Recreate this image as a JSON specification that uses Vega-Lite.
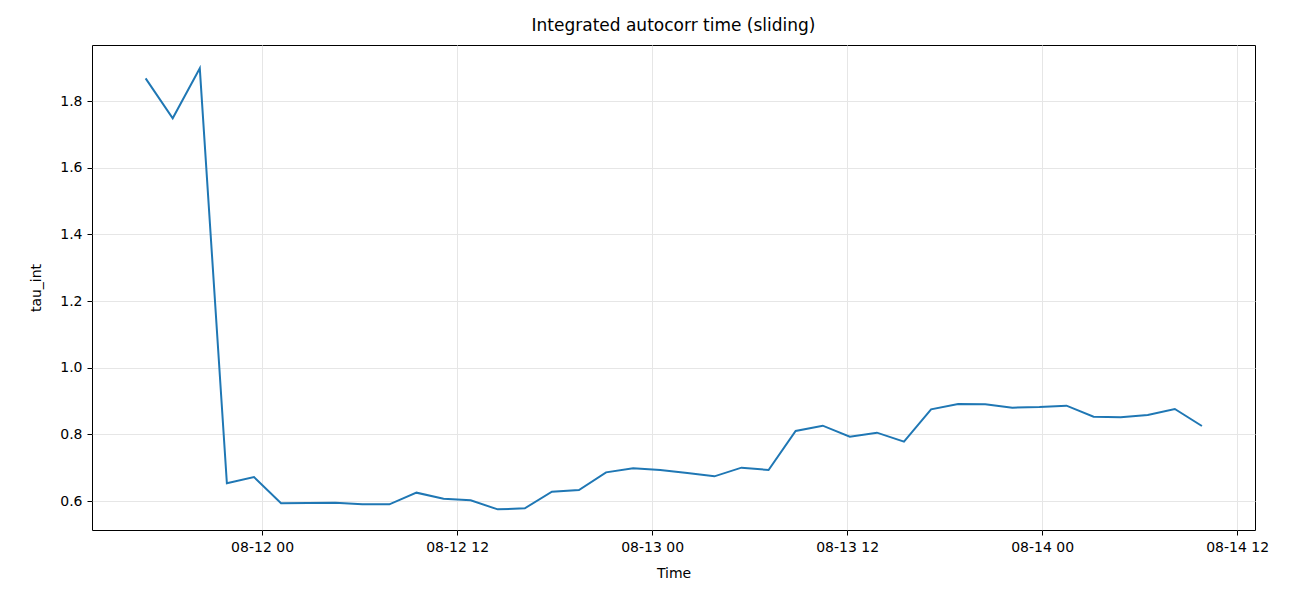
{
"$schema":"https://vega.github.io/schema/vega-lite/v6.json",
"width":1163,"height":485,
"autosize":{"type":"none"},
"padding":{"left":92,"top":45,"right":45,"bottom":79},
"background":"white",
"title":{"text":"Integrated autocorr time (sliding)","fontSize":17,"fontWeight":"normal","font":"DejaVu Sans","offset":10,"color":"black"},
"config":{"view":{"stroke":"black","strokeWidth":1},"axis":{"labelFont":"DejaVu Sans","titleFont":"DejaVu Sans","labelFontSize":14,"titleFontSize":14,"titleFontWeight":"normal","labelColor":"black","titleColor":"black","domain":false,"tickColor":"black","tickSize":5,"labelPadding":5,"gridColor":"#e6e6e6","gridWidth":1}},
"data":{"values":[
{"t":"2024-08-11T16:50:00Z","v":1.868},{"t":"2024-08-11T18:30:00Z","v":1.748},{"t":"2024-08-11T20:10:00Z","v":1.898},{"t":"2024-08-11T21:50:00Z","v":0.653},{"t":"2024-08-11T23:30:00Z","v":0.672},
{"t":"2024-08-12T01:10:00Z","v":0.593},{"t":"2024-08-12T02:50:00Z","v":0.594},{"t":"2024-08-12T04:30:00Z","v":0.595},{"t":"2024-08-12T06:10:00Z","v":0.590},{"t":"2024-08-12T07:50:00Z","v":0.590},
{"t":"2024-08-12T09:30:00Z","v":0.625},{"t":"2024-08-12T11:10:00Z","v":0.607},{"t":"2024-08-12T12:50:00Z","v":0.602},{"t":"2024-08-12T14:30:00Z","v":0.575},{"t":"2024-08-12T16:10:00Z","v":0.578},
{"t":"2024-08-12T17:50:00Z","v":0.628},{"t":"2024-08-12T19:30:00Z","v":0.633},{"t":"2024-08-12T21:10:00Z","v":0.686},{"t":"2024-08-12T22:50:00Z","v":0.698},{"t":"2024-08-13T00:30:00Z","v":0.693},
{"t":"2024-08-13T02:10:00Z","v":0.684},{"t":"2024-08-13T03:50:00Z","v":0.674},{"t":"2024-08-13T05:30:00Z","v":0.700},{"t":"2024-08-13T07:10:00Z","v":0.693},{"t":"2024-08-13T08:50:00Z","v":0.810},
{"t":"2024-08-13T10:30:00Z","v":0.826},{"t":"2024-08-13T12:10:00Z","v":0.793},{"t":"2024-08-13T13:50:00Z","v":0.805},{"t":"2024-08-13T15:30:00Z","v":0.778},{"t":"2024-08-13T17:10:00Z","v":0.875},
{"t":"2024-08-13T18:50:00Z","v":0.891},{"t":"2024-08-13T20:30:00Z","v":0.890},{"t":"2024-08-13T22:10:00Z","v":0.880},{"t":"2024-08-13T23:50:00Z","v":0.882},{"t":"2024-08-14T01:30:00Z","v":0.886},
{"t":"2024-08-14T03:10:00Z","v":0.853},{"t":"2024-08-14T04:50:00Z","v":0.851},{"t":"2024-08-14T06:30:00Z","v":0.858},{"t":"2024-08-14T08:10:00Z","v":0.876},{"t":"2024-08-14T09:50:00Z","v":0.825}
]},
"mark":{"type":"line","color":"#1f77b4","strokeWidth":2},
"encoding":{
"x":{"field":"t","type":"temporal","title":"Time",
"scale":{"type":"utc","domain":[{"year":2024,"month":8,"date":11,"hours":13,"minutes":32,"utc":true},{"year":2024,"month":8,"date":14,"hours":13,"minutes":6,"utc":true}]},
"axis":{"format":"%m-%d %H","labelAngle":0,"titlePadding":12,
"values":[{"year":2024,"month":8,"date":12,"hours":0,"utc":true},{"year":2024,"month":8,"date":12,"hours":12,"utc":true},{"year":2024,"month":8,"date":13,"hours":0,"utc":true},{"year":2024,"month":8,"date":13,"hours":12,"utc":true},{"year":2024,"month":8,"date":14,"hours":0,"utc":true},{"year":2024,"month":8,"date":14,"hours":12,"utc":true}]}},
"y":{"field":"v","type":"quantitative","title":"tau_int","scale":{"domain":[0.513,1.968],"nice":false,"zero":false},
"axis":{"values":[0.6,0.8,1.0,1.2,1.4,1.6,1.8],"format":".1f","titlePadding":16}}
}
}
